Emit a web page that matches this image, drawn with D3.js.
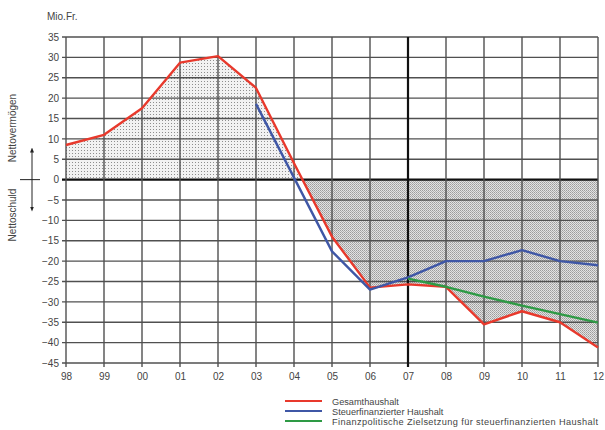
<!DOCTYPE html>
<html>
<head>
<meta charset="utf-8">
<script src="https://cdn.jsdelivr.net/npm/d3@7"></script>
<style>
  body { margin: 0; background: #fff; }
  svg { font-family: "Liberation Sans", Arial, sans-serif; }
</style>
</head>
<body>
<div id="chart"></div>
<script>
// data
const years = ['98', '99', '00', '01', '02', '03', '04', '05', '06', '07', '08', '09', '10', '11', '12']
const gesamt = [8.5, 11, 17.5, 28.7, 30.3, 22.5, 4, -14, -26.5, -25.7, -26.3, -35.5, -32.3, -35, -41.2]
const steuer = [null, null, null, null, null, 18.6, 0.5, -17.6, -27, -24, -20, -20, -17.3, -20, -21]
const ziel = [null, null, null, null, null, null, null, null, null, -24.3, -26.3, -28.7, -30.9, -33, -35.1]
const yTicks = [35, 30, 25, 20, 15, 10, 5, 0, -5, -10, -15, -20, -25, -30, -35, -40, -45]
const legendItems = [
    {label: 'Gesamthaushalt', color: '#e8392c'},
    {label: 'Steuerfinanzierter Haushalt', color: '#3f57a6'},
    {label: 'Finanzpolitische Zielsetzung für steuerfinanzierten Haushalt', color: '#2e9a45'}
]

function drawChart(parentID) {
    const width = 605, height = 430
    const margin = {top: 37, right: 7, bottom: 67, left: 66}

    const svg = d3.select(parentID).append('svg')
        .attr('width', width)
        .attr('height', height)

    // patterns for the two shaded areas
    const defs = svg.append('defs')
    const pPos = defs.append('pattern').attr('id', 'dotsPos')
        .attr('width', 3).attr('height', 3).attr('patternUnits', 'userSpaceOnUse')
    pPos.append('rect').attr('width', 3).attr('height', 3).attr('fill', '#f2f2f2')
    pPos.append('rect').attr('width', 1).attr('height', 1).attr('fill', '#8e8e8e')
    const pNeg = defs.append('pattern').attr('id', 'dotsNeg')
        .attr('width', 2).attr('height', 2).attr('patternUnits', 'userSpaceOnUse')
    pNeg.append('rect').attr('width', 2).attr('height', 2).attr('fill', '#e2e2e2')
    pNeg.append('rect').attr('width', 1).attr('height', 1).attr('fill', '#9c9c9c')
    pNeg.append('rect').attr('x', 1).attr('y', 1).attr('width', 1).attr('height', 1).attr('fill', '#b0b0b0')

    //d3 scales
    const xScale = d3.scalePoint()
        .domain(years)
        .range([margin.left, width - margin.right])

    const yScale = d3.scaleLinear()
        .domain([-45, 35])
        .range([height - margin.bottom, margin.top])

    const y0 = yScale(0)

    // clip paths above / below zero
    defs.append('clipPath').attr('id', 'clipPos').append('rect')
        .attr('x', margin.left).attr('y', margin.top)
        .attr('width', width - margin.left - margin.right).attr('height', y0 - margin.top)
    defs.append('clipPath').attr('id', 'clipNeg').append('rect')
        .attr('x', margin.left).attr('y', y0)
        .attr('width', width - margin.left - margin.right).attr('height', height - margin.bottom - y0)

    const area = d3.area()
        .x((d, i) => xScale(years[i]))
        .y0(y0)
        .y1(d => yScale(d))

    svg.append('path').datum(gesamt)
        .attr('d', area)
        .attr('fill', 'url(#dotsPos)')
        .attr('clip-path', 'url(#clipPos)')

    svg.append('path').datum(gesamt)
        .attr('d', area)
        .attr('fill', 'url(#dotsNeg)')
        .attr('clip-path', 'url(#clipNeg)')

    // grid
    const grid = svg.append('g').attr('class', 'grid')
    grid.selectAll('line.h').data(yTicks).join('line')
        .attr('class', 'h')
        .attr('x1', margin.left - 4).attr('x2', width - margin.right)
        .attr('y1', d => yScale(d)).attr('y2', d => yScale(d))
        .attr('stroke', d => d === 0 ? '#111' : '#505050')
        .attr('stroke-width', d => d === 0 ? 2.2 : 1.4)

    grid.selectAll('line.v').data(years).join('line')
        .attr('class', 'v')
        .attr('x1', d => xScale(d)).attr('x2', d => xScale(d))
        .attr('y1', margin.top).attr('y2', height - margin.bottom + 4)
        .attr('stroke', d => d === '07' ? '#111' : '#505050')
        .attr('stroke-width', d => d === '07' ? 2.2 : 1.4)

    // axis labels
    const yAxis = svg.append('g')
        .attr('transform', `translate(${margin.left},0)`)
        .call(d3.axisLeft(yScale).tickValues(yTicks).tickSize(0).tickPadding(7))
    yAxis.select('.domain').remove()
    yAxis.selectAll('text').attr('fill', '#444').attr('font-size', 10)
        .style('font-family', '"Liberation Sans", Arial, sans-serif')

    const xAxis = svg.append('g')
        .attr('transform', `translate(0,${height - margin.bottom})`)
        .call(d3.axisBottom(xScale).tickSize(0).tickPadding(10))
    xAxis.select('.domain').remove()
    xAxis.selectAll('text').attr('fill', '#444').attr('font-size', 10)
        .style('font-family', '"Liberation Sans", Arial, sans-serif')

    // lines: red first, then blue, then green on top
    const line = d3.line()
        .defined(d => d !== null)
        .x((d, i) => xScale(years[i]))
        .y(d => yScale(d))

    ;[[gesamt, legendItems[0].color], [steuer, legendItems[1].color], [ziel, legendItems[2].color]].forEach(([data, color]) => {
        svg.append('path').datum(data)
            .attr('d', line)
            .attr('fill', 'none')
            .attr('stroke', color)
            .attr('stroke-width', 2.4)
            .attr('stroke-linejoin', 'round')
    })

    // unit label
    svg.append('text')
        .attr('x', 47).attr('y', 20)
        .attr('font-size', 10).attr('fill', '#444')
        .text('Mio.Fr.')

    // left annotation
    svg.append('text')
        .attr('transform', `translate(16,128) rotate(-90)`)
        .attr('text-anchor', 'middle')
        .attr('font-size', 10).attr('fill', '#444')
        .text('Nettovermögen')
    svg.append('text')
        .attr('transform', `translate(16,215) rotate(-90)`)
        .attr('text-anchor', 'middle')
        .attr('font-size', 10).attr('fill', '#444')
        .text('Nettoschuld')

    defs.append('marker').attr('id', 'arrow')
        .attr('viewBox', '0 0 10 10').attr('refX', 5).attr('refY', 5)
        .attr('markerWidth', 5).attr('markerHeight', 5).attr('orient', 'auto-start-reverse')
        .append('path').attr('d', 'M0,1 L10,5 L0,9 Z').attr('fill', '#222')
    svg.append('line')
        .attr('x1', 32).attr('x2', 32).attr('y1', 150).attr('y2', 209)
        .attr('stroke', '#222').attr('stroke-width', 1)
        .attr('marker-start', 'url(#arrow)').attr('marker-end', 'url(#arrow)')
    svg.append('line')
        .attr('x1', 20).attr('x2', 40).attr('y1', y0).attr('y2', y0)
        .attr('stroke', '#222').attr('stroke-width', 1)

    // legend
    const legend = svg.append('g').attr('transform', 'translate(285,401)')
    const item = legend.selectAll('g').data(legendItems).join('g')
        .attr('transform', (d, i) => `translate(0,${i * 10})`)
    item.append('line')
        .attr('x1', 0).attr('x2', 37)
        .attr('stroke', d => d.color).attr('stroke-width', 2.2)
    item.append('text')
        .attr('x', 47).attr('y', 3.5)
        .attr('font-size', 9.2).attr('fill', '#444')
        .attr('textLength', (d, i) => i === 2 ? 266 : null)
        .attr('lengthAdjust', 'spacing')
        .text(d => d.label)
}

drawChart('#chart')
</script>
</body>
</html>
